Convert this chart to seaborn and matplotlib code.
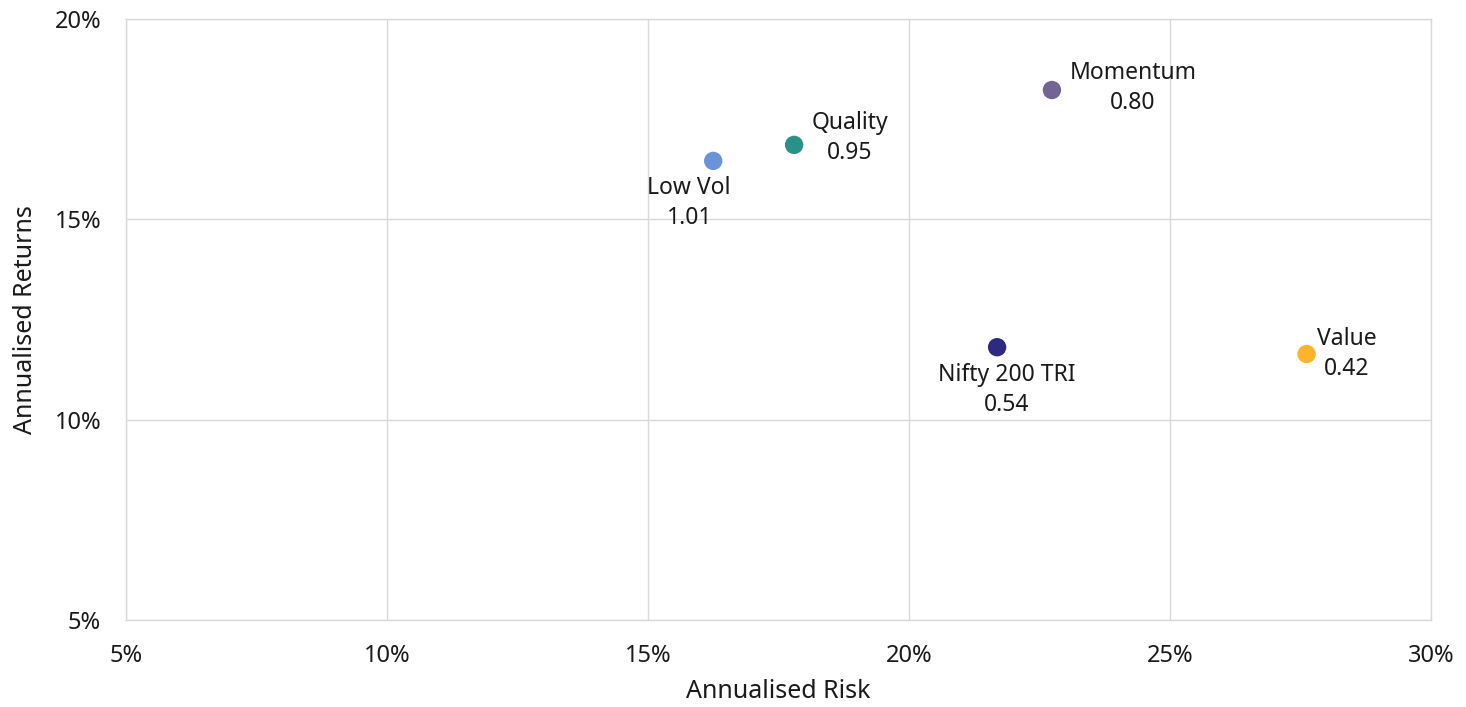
import seaborn as sns
import matplotlib.pyplot as plt
import pandas as pd
from matplotlib.ticker import PercentFormatter

# factor risk / return
names = ["Low Vol", "Quality", "Momentum", "Nifty 200 TRI", "Value"]
risk = [16.25, 17.80, 22.74, 21.69, 27.62]
returns = [16.46, 16.86, 18.23, 11.81, 11.64]
ratios = ["1.01", "0.95", "0.80", "0.54", "0.42"]
colors = ["#6B93D9", "#2A9189", "#736593", "#2E2981", "#FBB42B"]
# label offsets in pixels from the point
offsets = [(-24, -42), (56, 7), (81, 2), (10, -43), (40, 0)]

df = pd.DataFrame({"name": names, "risk": risk, "ret": returns})

sns.set_style("white")
plt.rcParams["font.family"] = ["Noto Sans", "DejaVu Sans"]

fig = plt.figure(figsize=(14.66, 7.07), dpi=100)
ax = fig.add_axes([0.086, 0.123, 0.890, 0.850])

sns.scatterplot(data=df, x="risk", y="ret", hue="name", palette=colors,
                s=175, edgecolor="none", legend=False, ax=ax, zorder=3)

for i in range(len(names)):
    ax.annotate(f"{names[i]}\n{ratios[i]}", (risk[i], returns[i]),
                xytext=offsets[i], textcoords="offset pixels",
                ha="center", va="center", fontsize=16.5, linespacing=1.35,
                color="#1a1a1a")

ax.set_xlim(5, 30)
ax.set_ylim(5, 20)
ax.set_xticks([5, 10, 15, 20, 25, 30])
ax.set_yticks([5, 10, 15, 20])
ax.xaxis.set_major_formatter(PercentFormatter(decimals=0))
ax.yaxis.set_major_formatter(PercentFormatter(decimals=0))
ax.grid(True, color="#d9d9d9", linewidth=1)
ax.set_axisbelow(True)
for s in ax.spines.values():
    s.set_color("#d9d9d9")
    s.set_linewidth(1)
ax.tick_params(length=0, labelsize=17, colors="#1a1a1a")
ax.tick_params(axis="x", pad=17)
ax.tick_params(axis="y", pad=18)
ax.set_xlabel("Annualised Risk", fontsize=18, color="#1a1a1a", labelpad=8)
ax.set_ylabel("Annualised Returns", fontsize=18, color="#1a1a1a", labelpad=12)

fig.savefig("out.png", dpi=100)
